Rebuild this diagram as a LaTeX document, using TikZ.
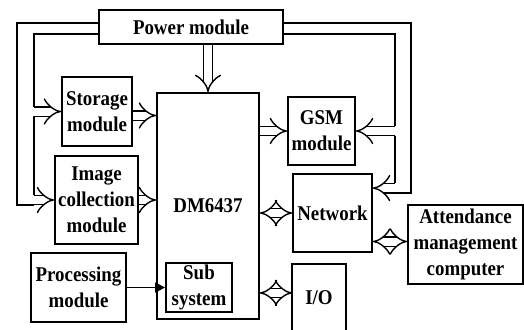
\documentclass[tikz,border=0pt]{standalone}
\usepackage{fontspec}
\setmainfont{Liberation Serif}[FakeStretch=0.9]
\usetikzlibrary{arrows.meta,calc}

\begin{document}
\begin{tikzpicture}[%
      x=0.5pt, y=-0.5pt,
      box/.style={draw, line width=0.9pt, inner sep=1pt, align=center,
        font=\fontsize{10.5}{13}\selectfont\bfseries},
      wire/.style={line width=0.8pt},
      pipe/.style={double, double distance=4pt, line width=0.7pt, -{Implies}},
      pipes/.style={double, double distance=4pt, line width=0.7pt, {Implies}-{Implies}},
      feed/.style={line width=0.8pt, -{Triangle[length=5pt,width=5pt]}},
      ]
      \useasboundingbox (0,0) rectangle (524,329);

      \node [box, minimum width=92pt, minimum height=17pt] (power) at (191,27) {Power module};
      \node [box, minimum width=35pt, minimum height=34.5pt] (storage) at (97,111.5) {Storage\\module};
      \node [box, minimum width=41.5pt, minimum height=44pt] (image) at (96.5,200) {Image\\collection\\module};
      \node [box, minimum width=47.5pt, minimum height=34.5pt] (processing) at (78.5,287.5) {Processing\\module};
      \node [box, minimum width=51pt, minimum height=113pt] (dm) at (208,206) {DM6437};
      \node [box, minimum width=33pt, minimum height=24.5pt] (sub) at (199,287.5) {Sub\\system};
      \node [box, minimum width=33.5pt, minimum height=34pt] (gsm) at (321.5,131) {GSM\\module};
      \node [box, minimum width=39.5pt, minimum height=39pt] (network) at (332.5,213) {Network};
      \node [box, minimum width=57.5pt, minimum height=39.5pt] (attendance) at (465.5,244.5) {Attendance\\management\\computer};
      \node [box, draw=none, minimum width=26pt, minimum height=33pt, anchor=north] (io) at (319,264) {I/O};
      \draw [line width=0.9pt] (io.south west) -- (io.north west) -- (io.north east) -- (io.south east);

      % power feed
      \coordinate (lout) at (17,0);
      \coordinate (lin) at (34,0);
      \coordinate (rout) at (411,0);
      \coordinate (rin) at (395,0);
      \coordinate (netin) at ($(network.north east)+(0,15)$);

      \draw [wire] ($(power.west)+(0,-4)$) -| ($(image.west -| lout)+(0,4.7)$) -- ($(image.west -| lin)+(0,4.7)$);
      \draw [wire] ($(power.west)+(0,7)$) -| ($(storage.west -| lin)+(0,-4.7)$);
      \draw [wire] ($(storage.west -| lin)+(0,4.7)$) -- ($(image.west -| lin)+(0,-4.7)$);
      \draw [pipe] (storage.west -| lin) -- (storage.west);
      \draw [pipe] (image.west -| lin) -- (image.west);

      \draw [wire] ($(power.east)+(0,-4)$) -| ($(netin -| rout)+(0,4.7)$) -- ($(netin -| rin)+(0,4.7)$);
      \draw [wire] ($(power.east)+(0,7)$) -| ($(gsm.east -| rin)+(0,-4.7)$);
      \draw [wire] ($(gsm.east -| rin)+(0,4.7)$) -- ($(netin -| rin)+(0,-4.7)$);
      \draw [pipe] (gsm.east -| rin) -- (gsm.east);
      \draw [pipe] (netin -| rin) -- (netin);

      \draw [pipe] (power.south -| dm.north) -- (dm.north);

      % data
      \draw [pipe] ($(storage.east)+(0,4)$) coordinate (s1) -- (s1 -| dm.west);
      \draw [pipe] (image.east) -- (image.east -| dm.west);
      \draw [pipe] (gsm.west -| dm.east) -- (gsm.west);
      \draw [pipes] (network.west -| dm.east) -- (network.west);
      \draw [pipes] ($(io.west)+(0,-5)$) coordinate (i1) -- (i1 -| dm.east);
      \draw [pipes] ($(attendance.west)+(0,-3)$) coordinate (a1) -- (a1 -| network.east);
      \draw [feed] (processing.east) -- (sub.west);
\end{tikzpicture}
\end{document}
